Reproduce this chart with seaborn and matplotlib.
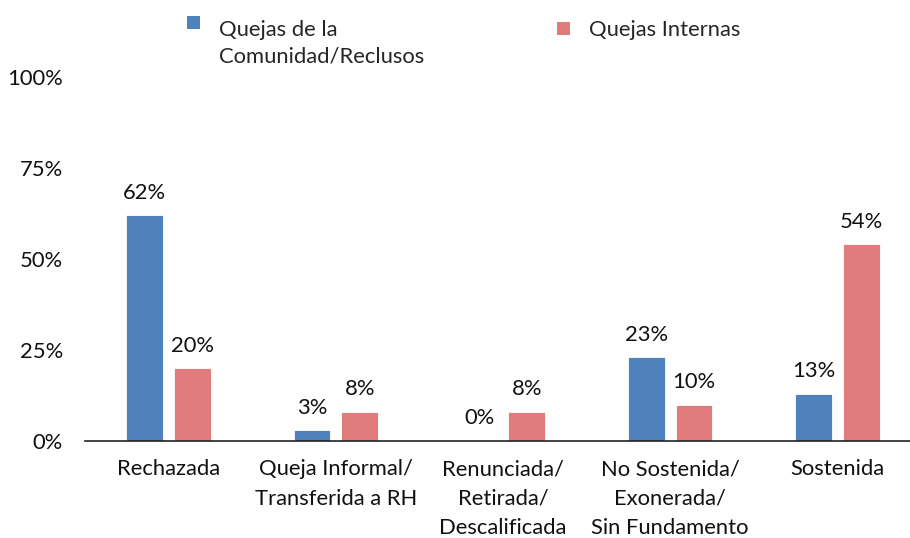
import matplotlib
matplotlib.use("Agg")
import matplotlib.pyplot as plt
from matplotlib.patches import Rectangle
from matplotlib.legend_handler import HandlerPatch
import seaborn as sns
import pandas as pd

# data
categories = ["Rechazada", "Queja Informal/\nTransferida a RH",
              "Renunciada/\nRetirada/\nDescalificada",
              "No Sostenida/\nExonerada/\nSin Fundamento", "Sostenida"]
series_names = ["Quejas de la\nComunidad/Reclusos", "Quejas Internas"]
comunidad = [62, 3, 0, 23, 13]
internas = [20, 8, 8, 10, 54]
yticks = [0, 25, 50, 75, 100]
colors = ["#4F81BD", "#E07C7C"]

df = pd.DataFrame({
    "cat": categories * 2,
    "serie": [series_names[0]] * 5 + [series_names[1]] * 5,
    "val": comunidad + internas,
})

sns.set_theme(style="white")
plt.rcParams["font.family"] = ["Lato", "DejaVu Sans"]
FS = 15.8


class TopSquare(HandlerPatch):
    """square legend key lifted to sit next to the first line of text"""
    def __init__(self, lift=0.0):
        super().__init__()
        self.lift = lift

    def create_artists(self, legend, orig_handle, xdescent, ydescent,
                       width, height, fontsize, trans):
        side = min(width, height)
        r = Rectangle((-xdescent, -ydescent + self.lift * fontsize), side, side,
                      facecolor=orig_handle.get_facecolor(), edgecolor="none",
                      transform=trans)
        return [r]


fig = plt.figure(figsize=(9.1, 5.38), dpi=100)
ax = fig.add_axes([85 / 910, 97 / 538, 836 / 910, 364 / 538])

sns.barplot(data=df, x="cat", y="val", hue="serie", order=categories,
            hue_order=series_names, palette=colors, width=0.57, gap=0.23,
            saturation=1, edgecolor="white", linewidth=0.6, ax=ax)

for cont in ax.containers:
    ax.bar_label(cont, labels=[f"{v:.0f}%" for v in cont.datavalues],
                 padding=9, fontsize=FS, color="#111111")

ax.set_ylim(0, 100)
ax.set_xlim(-0.5, len(categories) - 0.5)
ax.set_yticks(yticks)
ax.set_yticklabels([f"{t}%" for t in yticks], fontsize=FS, color="#111111")
ax.set_xticks(range(len(categories)))
ax.set_xticklabels(categories, fontsize=FS, color="#111111", linespacing=1.6,
                   va="top")
ax.tick_params(axis="y", length=0, pad=16)
ax.tick_params(axis="x", length=0, pad=13)
ax.set_xlabel("")
ax.set_ylabel("")
for s in ["top", "right", "left"]:
    ax.spines[s].set_visible(False)
ax.spines["bottom"].set_color("#222222")
ax.spines["bottom"].set_linewidth(1.2)

handles, labels = ax.get_legend_handles_labels()
ax.legend_.remove()
leg_x = [167 / 910, 537 / 910]
lifts = [0.95, 0.0]
for h, lab, x, lift in zip(handles, labels, leg_x, lifts):
    leg = fig.legend([h], [lab], loc="upper left", bbox_to_anchor=(x, 1.0),
                     frameon=False, fontsize=FS, handlelength=0.6,
                     handleheight=0.6, handletextpad=0.87, borderaxespad=0.5,
                     handler_map={h: TopSquare(lift)})
    for t in leg.get_texts():
        t.set_linespacing(1.4)

fig.savefig("out.png", dpi=100)
